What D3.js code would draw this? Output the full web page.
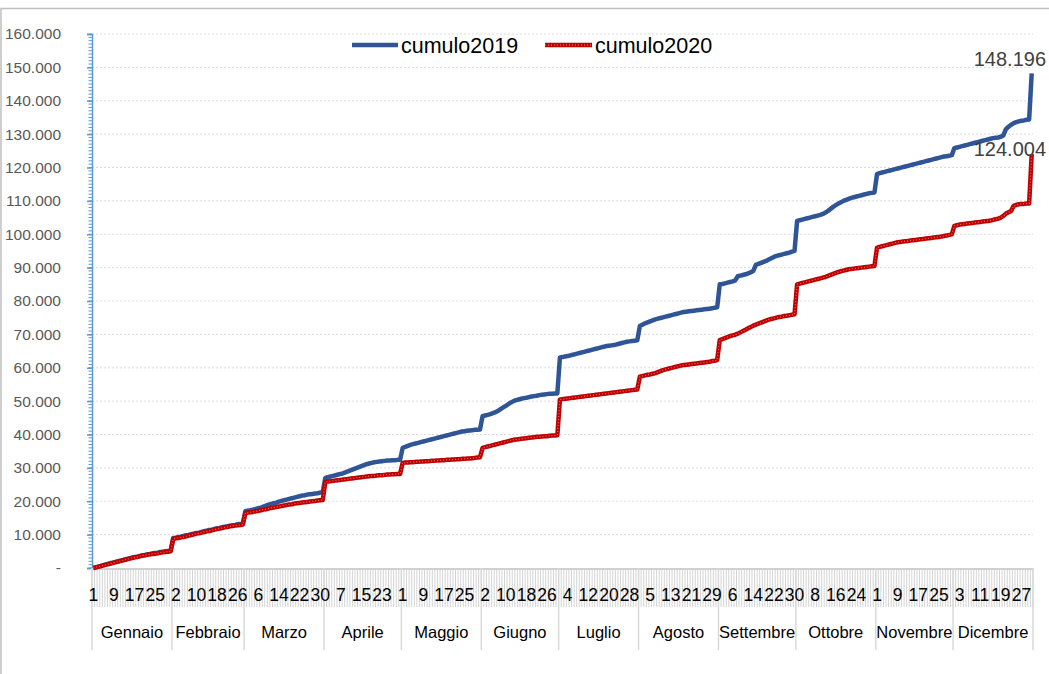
<!DOCTYPE html>
<html><head><meta charset="utf-8">
<script src="https://cdn.jsdelivr.net/npm/d3@7/dist/d3.min.js"></script>
<style>
body{margin:0;background:#fff;}
svg{display:block;font-family:"Liberation Sans",Arial,sans-serif;}
</style></head>
<body><svg id="c" width="1049" height="674"></svg>
<script>
// ---- DATA (values in thousands) ----
const monthNames = ["Gennaio","Febbraio","Marzo","Aprile","Maggio","Giugno","Luglio","Agosto","Settembre","Ottobre","Novembre","Dicembre"];
const monthLengths = [31,28,31,30,31,30,31,31,30,31,30,31];
const seriesNames = ["cumulo2019","cumulo2020"];
const yTicks = [0,10,20,30,40,50,60,70,80,90,100,110,120,130,140,150,160];

const cumulo2019 = [
// Gen
0.0,0.2,0.4,0.6,0.9,1.1,1.3,1.5,1.7,1.9,2.1,2.3,2.5,2.7,2.9,3.1,3.3,3.4,3.6,3.8,3.9,4.1,4.2,4.4,4.5,4.6,4.8,4.9,5.0,5.1,5.2,
// Feb
9.0,9.1,9.3,9.4,9.6,9.8,9.9,10.1,10.3,10.5,10.6,10.8,11.0,11.2,11.4,11.5,11.7,11.9,12.0,12.2,12.4,12.5,12.7,12.8,12.9,13.1,13.2,13.3,
// Mar
17.0,17.2,17.3,17.5,17.7,17.9,18.1,18.4,18.7,19.0,19.2,19.4,19.6,19.9,20.1,20.3,20.5,20.7,20.9,21.1,21.3,21.5,21.7,21.8,22.0,22.1,22.2,22.3,22.4,22.6,22.7,
// Apr
27.0,27.2,27.4,27.6,27.8,28.0,28.2,28.4,28.7,29.0,29.3,29.6,29.9,30.2,30.5,30.8,31.1,31.3,31.5,31.7,31.8,31.9,32.0,32.1,32.2,32.2,32.3,32.3,32.4,32.4,
// Mag
36.0,36.3,36.6,36.9,37.1,37.3,37.5,37.7,37.9,38.1,38.3,38.5,38.7,38.9,39.1,39.3,39.5,39.7,39.9,40.1,40.3,40.5,40.7,40.9,41.0,41.1,41.2,41.3,41.4,41.4,41.5,
// Giu
45.5,45.7,45.9,46.1,46.4,46.7,47.1,47.6,48.1,48.6,49.1,49.6,50.0,50.3,50.5,50.7,50.9,51.0,51.2,51.4,51.5,51.6,51.8,51.9,52.0,52.1,52.2,52.2,52.3,52.3,
// Lug
63.1,63.2,63.4,63.5,63.7,63.9,64.1,64.3,64.5,64.7,64.9,65.1,65.3,65.5,65.7,65.9,66.1,66.3,66.5,66.6,66.7,66.8,67.0,67.2,67.4,67.6,67.8,67.9,68.0,68.1,68.2,
// Ago
72.5,72.9,73.3,73.6,73.9,74.2,74.5,74.7,74.9,75.1,75.3,75.5,75.7,75.9,76.1,76.3,76.5,76.7,76.8,76.9,77.0,77.1,77.2,77.3,77.4,77.5,77.6,77.7,77.8,78.0,78.1,
// Set
85.0,85.1,85.3,85.5,85.7,85.9,86.2,87.4,87.6,87.8,88.0,88.3,88.6,89.0,90.8,91.1,91.4,91.7,92.0,92.4,92.8,93.2,93.5,93.7,93.9,94.1,94.3,94.5,94.8,95.0,
// Ott
104.0,104.2,104.4,104.6,104.8,105.0,105.2,105.4,105.6,105.8,106.1,106.5,107.0,107.6,108.2,108.7,109.2,109.6,110.0,110.3,110.6,110.9,111.1,111.3,111.5,111.7,111.9,112.1,112.3,112.4,112.5,
// Nov
118.0,118.3,118.5,118.7,118.9,119.1,119.3,119.5,119.7,119.9,120.1,120.3,120.5,120.7,120.9,121.1,121.3,121.5,121.7,121.9,122.1,122.3,122.5,122.7,122.9,123.1,123.3,123.4,123.5,123.7,
// Dic
125.8,126.0,126.2,126.4,126.6,126.8,127.0,127.2,127.4,127.6,127.8,128.0,128.2,128.4,128.6,128.8,128.9,129.0,129.2,129.6,131.5,132.2,132.8,133.3,133.6,133.8,134.0,134.1,134.3,134.4,148.196
];

const cumulo2020 = [
// Gen
0.0,0.2,0.4,0.6,0.8,1.0,1.2,1.4,1.6,1.8,2.0,2.2,2.4,2.6,2.8,3.0,3.2,3.3,3.5,3.7,3.8,4.0,4.1,4.2,4.3,4.4,4.6,4.7,4.8,4.9,5.0,
// Feb
8.7,8.9,9.0,9.2,9.3,9.5,9.7,9.9,10.1,10.3,10.4,10.6,10.8,11.0,11.1,11.3,11.5,11.7,11.8,12.0,12.2,12.3,12.5,12.6,12.7,12.8,12.9,13.0,
// Mar
16.5,16.6,16.7,16.8,17.0,17.1,17.3,17.5,17.6,17.8,18.0,18.1,18.3,18.4,18.6,18.7,18.9,19.0,19.1,19.3,19.4,19.5,19.6,19.7,19.8,19.9,20.0,20.1,20.2,20.3,20.4,
// Apr
25.8,25.9,26.0,26.1,26.2,26.3,26.4,26.5,26.6,26.7,26.8,26.9,27.0,27.1,27.2,27.3,27.4,27.5,27.6,27.6,27.7,27.8,27.8,27.9,28.0,28.0,28.1,28.1,28.2,28.2,
// Mag
31.5,31.6,31.6,31.7,31.7,31.8,31.8,31.9,31.9,32.0,32.0,32.1,32.1,32.2,32.2,32.3,32.3,32.4,32.4,32.5,32.5,32.6,32.6,32.7,32.7,32.8,32.8,32.9,33.0,33.1,33.2,
// Giu
36.0,36.2,36.4,36.6,36.8,37.0,37.2,37.4,37.6,37.8,38.0,38.2,38.4,38.5,38.6,38.7,38.8,38.9,39.0,39.1,39.2,39.3,39.3,39.4,39.5,39.5,39.6,39.7,39.7,39.8,
// Lug
50.5,50.6,50.7,50.8,50.9,51.0,51.1,51.2,51.3,51.4,51.5,51.6,51.7,51.8,51.9,52.0,52.1,52.2,52.3,52.4,52.5,52.6,52.7,52.8,52.9,53.0,53.1,53.2,53.3,53.4,53.5,
// Ago
57.3,57.5,57.7,57.9,58.0,58.2,58.4,58.7,59.0,59.3,59.5,59.7,59.9,60.1,60.3,60.5,60.7,60.8,60.9,61.0,61.1,61.2,61.3,61.4,61.5,61.6,61.7,61.8,62.0,62.1,62.3,
// Set
68.3,68.6,68.9,69.2,69.5,69.7,69.9,70.2,70.6,71.0,71.4,71.8,72.2,72.6,72.9,73.2,73.5,73.8,74.1,74.4,74.6,74.8,75.0,75.2,75.3,75.5,75.6,75.7,75.9,76.0,
// Ott
85.0,85.2,85.4,85.6,85.8,86.0,86.2,86.4,86.6,86.8,87.0,87.2,87.5,87.8,88.1,88.4,88.7,88.9,89.1,89.3,89.5,89.6,89.7,89.8,89.9,90.0,90.1,90.2,90.3,90.4,90.5,
// Nov
96.0,96.2,96.4,96.6,96.8,97.0,97.2,97.4,97.6,97.7,97.8,97.9,98.0,98.1,98.2,98.3,98.4,98.5,98.6,98.7,98.8,98.9,99.0,99.1,99.2,99.3,99.5,99.6,99.8,100.0,
// Dic
102.5,102.7,102.9,103.0,103.1,103.2,103.3,103.4,103.5,103.6,103.7,103.8,103.9,104.0,104.1,104.3,104.5,104.7,105.0,105.5,106.2,106.6,107.0,108.5,108.8,109.0,109.1,109.1,109.2,109.2,124.004
];

// ---- LAYOUT ----
const svg = d3.select("#c");
const pLeft = 92, pRight = 1033, pTop = 34, pBottom = 568;
const nDays = monthLengths.reduce((a,b)=>a+b,0);
const idx = d3.range(nDays);
const dayOfMonth = [], monthStart = [0];
monthLengths.forEach((L,m)=>{ for(let d=1; d<=L; d++) dayOfMonth.push(d); monthStart.push(monthStart[m]+L); });

const x = d3.scaleBand().domain(idx).range([pLeft,pRight]).padding(0);
const bw = x.bandwidth();
const cx = i => x(i) + bw/2;
const xe = i => i < nDays ? x(i) : pRight;
const y = d3.scaleLinear().domain([0,160]).range([pBottom,pTop]);

const itFmt = d3.formatLocale({decimal:",",thousands:".",grouping:[3],currency:["€",""]}).format(",.0f");
const yLabel = v => v === 0 ? "-" : itFmt(v*1000);
const endFmt = v => itFmt(Math.round(v*1000));

// outer border
svg.append("rect").attr("x",1).attr("y",8.5).attr("width",1060).attr("height",700)
  .attr("fill","none").attr("stroke","#BFBFBF").attr("stroke-width",1.5);

// gridlines
svg.append("g").selectAll("line").data(yTicks.filter(v=>v>0)).join("line")
  .attr("x1",pLeft).attr("x2",pRight).attr("y1",d=>y(d)).attr("y2",d=>y(d))
  .attr("stroke","#DCDCDC").attr("stroke-width",1).attr("stroke-dasharray","2,2");

// y axis
const yAxis = svg.append("g").attr("transform",`translate(${pLeft},0)`)
  .call(d3.axisLeft(y).tickValues(yTicks).tickFormat(yLabel).tickSize(5).tickPadding(26));
yAxis.select(".domain").attr("stroke","#5B9BD5").attr("stroke-width",1.5);
yAxis.selectAll(".tick line").attr("stroke","#5B9BD5").attr("stroke-width",1.5);
yAxis.selectAll(".tick text").attr("fill","#595959").attr("font-size",15.5)
  .attr("font-family","Liberation Sans, Arial, sans-serif");
// minor ticks
svg.append("g").selectAll("line").data(d3.range(0,160.01,1)).join("line")
  .attr("x1",pLeft-3.5).attr("x2",pLeft).attr("y1",d=>y(d)).attr("y2",d=>y(d))
  .attr("stroke","#5B9BD5").attr("stroke-width",1);

// x category axis: day tick band
const xg = svg.append("g");
xg.selectAll("line.day").data(d3.range(nDays+1)).join("line").attr("class","day")
  .attr("x1",d=>xe(d)).attr("x2",d=>xe(d))
  .attr("y1",pBottom).attr("y2",607).attr("stroke","#D4D4D4").attr("stroke-width",1);
xg.append("line").attr("x1",pLeft).attr("x2",pRight).attr("y1",pBottom+1).attr("y2",pBottom+1)
  .attr("stroke","#D0D0D0").attr("stroke-width",2);
// month separators
xg.selectAll("line.mon").data(monthStart).join("line").attr("class","mon")
  .attr("x1",d=>xe(d)).attr("x2",d=>xe(d))
  .attr("y1",pBottom).attr("y2",650).attr("stroke","#D9D9D9").attr("stroke-width",1.5);
// day labels every 8th day
xg.selectAll("text.day").data(idx.filter(i=>i%8===0)).join("text").attr("class","day")
  .attr("x",d=>cx(d)).attr("y",601).attr("text-anchor","middle")
  .attr("font-size",17.5).attr("fill","#000").text(d=>dayOfMonth[d]);
// month labels
xg.selectAll("text.mon").data(monthNames).join("text").attr("class","mon")
  .attr("x",(d,m)=>(xe(monthStart[m]) + xe(monthStart[m+1]))/2)
  .attr("y",638).attr("text-anchor","middle").attr("font-size",16.5).attr("fill","#000").text(d=>d);

// lines
const line = d3.line().x((d,i)=>cx(i)).y(d=>y(d));
svg.append("path").datum(cumulo2019).attr("d",line).attr("fill","none")
  .attr("stroke","#2F5597").attr("stroke-width",4.5).attr("stroke-linejoin","round");
svg.append("path").datum(cumulo2020).attr("d",line).attr("fill","none")
  .attr("stroke","#C00000").attr("stroke-width",4.5).attr("stroke-linejoin","round");
svg.append("path").datum(cumulo2020).attr("d",line).attr("fill","none")
  .attr("stroke","#E88A8A").attr("stroke-width",1.2).attr("stroke-dasharray","1,2").attr("opacity",0.8);

// end labels
const last = nDays-1;
svg.append("text").attr("x",1046).attr("y",y(cumulo2019[last])-7).attr("text-anchor","end")
  .attr("font-size",20).attr("fill","#404040").text(endFmt(cumulo2019[last]));
svg.append("text").attr("x",1046).attr("y",y(cumulo2020[last])+1.5).attr("text-anchor","end")
  .attr("font-size",20).attr("fill","#404040").text(endFmt(cumulo2020[last]));

// legend
const lg = svg.append("g");
lg.append("line").attr("x1",352).attr("x2",398).attr("y1",45).attr("y2",45)
  .attr("stroke","#2F5597").attr("stroke-width",4.5);
lg.append("text").attr("x",401).attr("y",53).attr("font-size",21.5).attr("fill","#000").text(seriesNames[0]);
lg.append("line").attr("x1",545).attr("x2",592).attr("y1",45).attr("y2",45)
  .attr("stroke","#C00000").attr("stroke-width",4.5);
lg.append("line").attr("x1",545).attr("x2",592).attr("y1",45).attr("y2",45)
  .attr("stroke","#E88A8A").attr("stroke-width",1.2).attr("stroke-dasharray","1,2");
lg.append("text").attr("x",595).attr("y",53).attr("font-size",21.5).attr("fill","#000").text(seriesNames[1]);
</script></body></html>
